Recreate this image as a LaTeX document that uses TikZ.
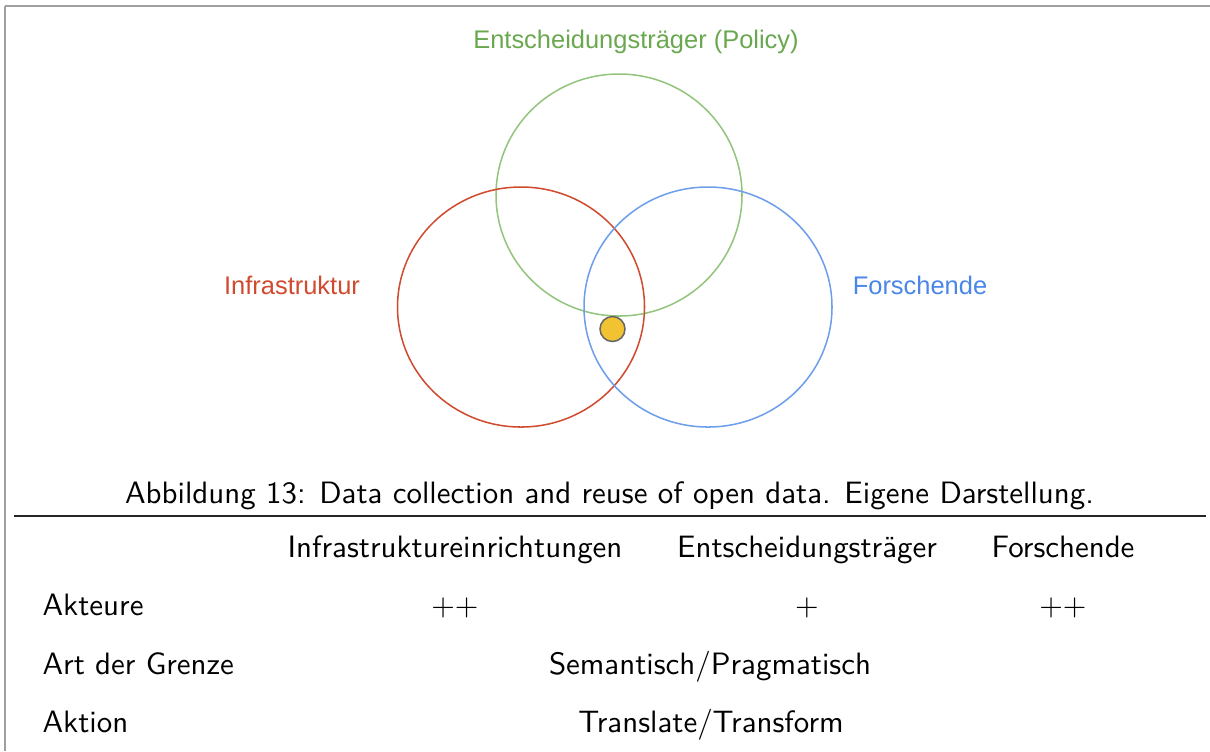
\documentclass[tikz,border=0pt]{standalone}
\usepackage{fontspec}
\newfontfamily\arialfont{Liberation Sans}
\usetikzlibrary{shapes.geometric}
\definecolor{vred}{HTML}{D04A2E}
\definecolor{vgreen}{HTML}{93C47D}
\definecolor{vgreenT}{HTML}{6AA84F}
\definecolor{vblue}{HTML}{6D9EEB}
\definecolor{vblueT}{HTML}{4A86E8}
\definecolor{vyellow}{HTML}{F1C232}
\definecolor{vgray}{HTML}{666666}
\definecolor{frameclr}{HTML}{A0A0A0}
\tikzset{
  lbl/.style={font=\arialfont\fontsize{8.4}{10}\selectfont, anchor=base, inner sep=0pt},
  tab/.style={font=\sffamily\fontsize{10.2}{12}\selectfont, anchor=base, inner sep=0pt},
  captionstyle/.style={font=\sffamily\fontsize{10.2}{12}\selectfont, anchor=base, inner sep=0pt},
  ring/.style={line width=0.5pt},
}
\begin{document}
\begin{tikzpicture}[x=0.33pt,y=-0.33pt]
\useasboundingbox (0,0) rectangle (1210,751);
% frame lines
\draw[frameclr, line width=0.5pt] (5,6) -- (1210,6);
\draw[frameclr, line width=0.5pt] (5,6) -- (5,751);
% circles
\draw[ring, vgreen] (619,195) ellipse [x radius=123, y radius=121];
\draw[ring, vred] (521,307) ellipse [x radius=123.5, y radius=120];
\draw[ring, vblue] (708,307) ellipse [x radius=124, y radius=120];
\node (dot) [circle, draw=vgray, fill=vyellow, line width=0.5pt, minimum size=25*0.33pt, inner sep=0pt] at (612.5,329) {};
% labels
\node (lpol) [lbl, text=vgreenT] at (636,48) {Entscheidungsträger (Policy)};
\node (linf) [lbl, text=vred] at (292,294) {Infrastruktur};
\node (lfor) [lbl, text=vblueT] at (920,294) {Forschende};
% caption
\node (captiontext) [captionstyle] at (609.5,503) {Abbildung 13: Data collection and reuse of open data. Eigene Darstellung.};
\coordinate (ruleL) at (14,516);
\coordinate (ruleR) at (1206,516);
\draw[line width=0.5pt, black!85] (ruleL) -- (ruleR);
% table
\node (h1) [tab] at (455,557) {Infrastruktureinrichtungen};
\node (h2) [tab] at (807,557) {Entscheidungsträger};
\node (h3) [tab] at (1063,557) {Forschende};
\node (r1) [tab, anchor=base west] at (42,615) {Akteure};
\node (r2) [tab, anchor=base west] at (42,674) {Art der Grenze};
\node (r3) [tab, anchor=base west] at (42,732) {Aktion};
\node (c11) [tab] at (455,615) {$++$};
\node (c12) [tab] at (807,615) {$+$};
\node (c13) [tab] at (1063,615) {$++$};
\node (c2) [tab] at (710,674) {Semantisch/Pragmatisch};
\node (c3) [tab] at (711,732) {Translate/Transform};
\end{tikzpicture}
\end{document}
